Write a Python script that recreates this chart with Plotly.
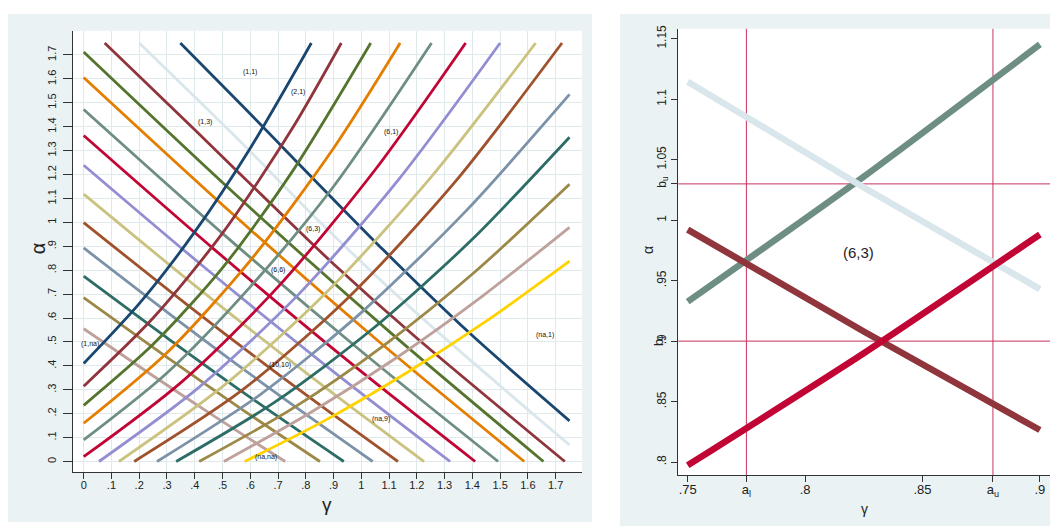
import plotly.graph_objects as go

W, H = 1050, 526

# ---------------- Stata s2color palette ----------------
NAVY = "#1A476F"; MAROON = "#90353B"; FOREST = "#55752F"; DKORANGE = "#E37E00"
TEAL = "#6E8E84"; CRANBERRY = "#C10534"; LAVENDER = "#938DD2"; KHAKI = "#CAC27E"
SIENNA = "#A0522D"; EMIDBLUE = "#7B92A8"; EMERALD = "#2D6D66"; BROWN = "#9C8847"
EROSE = "#BFA19C"; GOLD = "#FFD200"; BLUISHGRAY = "#D9E6EB"

# ---------------- left panel: rising curves (gamma, alpha) ----------------
UP_NAVY_G = [0, 0.2, 0.4, 0.6, 0.82]
UP_NAVY_A = [0.41, 0.66, 0.96, 1.31, 1.75]
UP_MAROON_G = [0, 0.25, 0.5, 0.75, 0.928]
UP_MAROON_A = [0.315, 0.60, 0.955, 1.39, 1.75]
UP_FOREST_G = [0, 0.25, 0.5, 0.75, 1.034]
UP_FOREST_A = [0.235, 0.49, 0.81, 1.21, 1.75]
UP_ORANGE_G = [0, 0.3, 0.6, 0.9, 1.14]
UP_ORANGE_A = [0.16, 0.455, 0.84, 1.31, 1.75]
UP_TEAL_G = [0, 0.3, 0.6, 0.9, 1.253]
UP_TEAL_A = [0.09, 0.37, 0.73, 1.15, 1.75]
UP_CRAN_G = [0, 0.35, 0.7, 1.05, 1.376]
UP_CRAN_A = [0.02, 0.33, 0.73, 1.22, 1.75]
UP_LAV_G = [0.055, 0.415, 0.775, 1.135, 1.5]
UP_LAV_A = [0, 0.31, 0.70, 1.18, 1.75]
UP_KHAKI_G = [0.127, 0.502, 0.877, 1.252, 1.628]
UP_KHAKI_A = [0, 0.315, 0.71, 1.19, 1.75]
UP_SIENNA_G = [0.182, 0.567, 0.952, 1.337, 1.723]
UP_SIENNA_A = [0, 0.295, 0.684, 1.168, 1.75]
UP_EMID_G = [0.264, 0.636, 1.007, 1.379, 1.75]
UP_EMID_A = [0, 0.28, 0.63, 1.05, 1.535]
UP_EMER_G = [0.333, 0.687, 1.041, 1.396, 1.75]
UP_EMER_A = [0, 0.247, 0.555, 0.925, 1.356]
UP_BROWN_G = [0.416, 0.75, 1.083, 1.416, 1.75]
UP_BROWN_A = [0, 0.22, 0.487, 0.80, 1.159]
UP_EROSE_G = [0.505, 0.816, 1.128, 1.439, 1.75]
UP_EROSE_A = [0, 0.204, 0.435, 0.694, 0.979]
UP_GOLD_G = [0.58, 0.873, 1.165, 1.458, 1.75]
UP_GOLD_A = [0, 0.174, 0.372, 0.593, 0.838]

# ---------------- left panel: falling curves (gamma, alpha) ----------------
DN_NAVY_G = [0.348, 0.574, 1.078, 1.39, 1.75]
DN_NAVY_A = [1.75, 1.484, 0.886, 0.537, 0.17]
DN_BLUISH_G = [0.2, 0.574, 0.826, 1.186, 1.75]
DN_BLUISH_A = [1.75, 1.327, 1.03, 0.634, 0.069]
DN_MAROON_G = [0.0756, 0.4, 0.75, 0.9, 1.186, 1.733]
DN_MAROON_A = [1.75, 1.387, 0.992, 0.826, 0.53, 0]
DN_FOREST_G = [0, 0.55, 1.1, 1.656]
DN_FOREST_A = [1.712, 1.113, 0.544, 0]
DN_ORANGE_G = [0, 0.53, 1.06, 1.587]
DN_ORANGE_A = [1.606, 1.042, 0.505, 0]
DN_TEAL_G = [0, 0.5, 1.0, 1.493]
DN_TEAL_A = [1.472, 0.954, 0.461, 0]
DN_CRAN_G = [0, 0.47, 0.94, 1.41]
DN_CRAN_A = [1.363, 0.887, 0.432, 0]
DN_LAV_G = [0, 0.44, 0.88, 1.32]
DN_LAV_A = [1.239, 0.807, 0.394, 0]
DN_KHAKI_G = [0, 0.41, 0.82, 1.226]
DN_KHAKI_A = [1.118, 0.727, 0.354, 0]
DN_SIENNA_G = [0, 0.38, 0.755, 1.132]
DN_SIENNA_A = [0.999, 0.649, 0.318, 0]
DN_EMID_G = [0, 0.35, 0.69, 1.041]
DN_EMID_A = [0.893, 0.581, 0.289, 0]
DN_EMER_G = [0, 0.31, 0.625, 0.937]
DN_EMER_A = [0.775, 0.509, 0.248, 0]
DN_BROWN_G = [0, 0.285, 0.57, 0.851]
DN_BROWN_A = [0.685, 0.448, 0.218, 0]
DN_EROSE_G = [0, 0.24, 0.485, 0.726]
DN_EROSE_A = [0.555, 0.366, 0.178, 0]

# region labels (left panel)
LBL_TEXT = ["(1,1)", "(2,1)", "(1,3)", "(6,1)", "(6,3)", "(6,6)", "(1,na)", "(10,10)", "(na,9)", "(na,1)", "(na,na)"]
LBL_G = [0.598, 0.772, 0.436, 1.106, 0.826, 0.70, 0.022, 0.706, 1.072, 1.661, 0.656]
LBL_A = [1.629, 1.546, 1.418, 1.378, 0.972, 0.80, 0.491, 0.405, 0.177, 0.53, 0.018]

# left axis ticks
L_TICKS = [0, .1, .2, .3, .4, .5, .6, .7, .8, .9, 1, 1.1, 1.2, 1.3, 1.4, 1.5, 1.6, 1.7]
L_TICKTEXT = ["0", ".1", ".2", ".3", ".4", ".5", ".6", ".7", ".8", ".9", "1",
              "1.1", "1.2", "1.3", "1.4", "1.5", "1.6", "1.7"]

# ---------------- right panel: zoom on region (6,3) ----------------
R_TEAL_G = [0.75, 0.825, 0.90]
R_TEAL_A = [0.9326, 1.036, 1.1453]
R_BLUISH_G = [0.75, 0.825, 0.90]
R_BLUISH_A = [1.1145, 1.027, 0.943]
R_MAROON_G = [0.75, 0.825, 0.90]
R_MAROON_A = [0.9922, 0.908, 0.8265]
R_CRAN_G = [0.75, 0.825, 0.90]
R_CRAN_A = [0.7973, 0.890, 0.9881]
A_L, A_U = 0.775, 0.88
B_L, B_U = 0.90, 1.03
R_XTICKS = [0.75, A_L, 0.8, 0.85, A_U, 0.9]
R_XTEXT = [".75", "a<sub>l</sub>", ".8", ".85", "a<sub>u</sub>", ".9"]
R_YTICKS = [0.8, 0.85, 0.9, 0.95, 1.0, B_U, 1.05, 1.1, 1.15]
R_YTEXT = [".8", ".85", ".9", ".95", "1", "b<sub>u</sub>", "1.05", "1.1", "1.15"]

FONT = "Liberation Sans, Arial, sans-serif"

# ---------------- figure ----------------
fig = go.Figure()

up_lines = [
    (UP_NAVY_G, UP_NAVY_A, NAVY), (UP_MAROON_G, UP_MAROON_A, MAROON),
    (UP_FOREST_G, UP_FOREST_A, FOREST), (UP_ORANGE_G, UP_ORANGE_A, DKORANGE),
    (UP_TEAL_G, UP_TEAL_A, TEAL), (UP_CRAN_G, UP_CRAN_A, CRANBERRY),
    (UP_LAV_G, UP_LAV_A, LAVENDER), (UP_KHAKI_G, UP_KHAKI_A, KHAKI),
    (UP_SIENNA_G, UP_SIENNA_A, SIENNA), (UP_EMID_G, UP_EMID_A, EMIDBLUE),
    (UP_EMER_G, UP_EMER_A, EMERALD), (UP_BROWN_G, UP_BROWN_A, BROWN),
    (UP_EROSE_G, UP_EROSE_A, EROSE), (UP_GOLD_G, UP_GOLD_A, GOLD),
]
down_lines = [
    (DN_NAVY_G, DN_NAVY_A, NAVY), (DN_BLUISH_G, DN_BLUISH_A, BLUISHGRAY),
    (DN_MAROON_G, DN_MAROON_A, MAROON), (DN_FOREST_G, DN_FOREST_A, FOREST),
    (DN_ORANGE_G, DN_ORANGE_A, DKORANGE), (DN_TEAL_G, DN_TEAL_A, TEAL),
    (DN_CRAN_G, DN_CRAN_A, CRANBERRY), (DN_LAV_G, DN_LAV_A, LAVENDER),
    (DN_KHAKI_G, DN_KHAKI_A, KHAKI), (DN_SIENNA_G, DN_SIENNA_A, SIENNA),
    (DN_EMID_G, DN_EMID_A, EMIDBLUE), (DN_EMER_G, DN_EMER_A, EMERALD),
    (DN_BROWN_G, DN_BROWN_A, BROWN), (DN_EROSE_G, DN_EROSE_A, EROSE),
]

for g, a, c in down_lines + up_lines:
    fig.add_trace(go.Scatter(x=g, y=a, mode="lines",
                             line=dict(color=c, width=2.8, shape="spline", smoothing=0.8),
                             xaxis="x", yaxis="y", showlegend=False, hoverinfo="skip"))

right_lines = [
    (R_TEAL_G, R_TEAL_A, TEAL), (R_BLUISH_G, R_BLUISH_A, BLUISHGRAY),
    (R_MAROON_G, R_MAROON_A, MAROON), (R_CRAN_G, R_CRAN_A, CRANBERRY),
]
for g, a, c in right_lines:
    fig.add_trace(go.Scatter(x=g, y=a, mode="lines",
                             line=dict(color=c, width=6.5, shape="spline", smoothing=0.6),
                             xaxis="x2", yaxis="y2", showlegend=False, hoverinfo="skip"))

# domains (paper fractions)
LX = [73 / W, 582 / W]
LY = [1 - 472 / H, 1 - 27 / H]
RX = [678.3 / W, 1.0]
RY = [1 - 475 / H, 1 - 25 / H]

BG = "#EAF2F3"
GRID = "#E0EAED"
AXC = "#333333"

shapes = [
    dict(type="rect", xref="paper", yref="paper", x0=8 / W, x1=592 / W, y0=1 - 522 / H, y1=1 - 10 / H,
         fillcolor=BG, line=dict(width=0), layer="below"),
    dict(type="rect", xref="paper", yref="paper", x0=620 / W, x1=1.0, y0=0, y1=1 - 10 / H,
         fillcolor=BG, line=dict(width=0), layer="below"),
    dict(type="rect", xref="paper", yref="paper", x0=LX[0], x1=LX[1], y0=LY[0], y1=LY[1],
         fillcolor="white", line=dict(width=0), layer="below"),
    dict(type="rect", xref="paper", yref="paper", x0=RX[0], x1=RX[1], y0=RY[0], y1=RY[1],
         fillcolor="white", line=dict(width=0), layer="below"),
]
REF = "#C8325A"
for xv in (A_L, A_U):
    shapes.append(dict(type="line", xref="x2", yref="paper", x0=xv, x1=xv, y0=RY[0], y1=RY[1],
                       line=dict(color=REF, width=1), layer="below"))
for yv in (B_L, B_U):
    shapes.append(dict(type="line", xref="paper", yref="y2", x0=RX[0], x1=RX[1], y0=yv, y1=yv,
                       line=dict(color=REF, width=1), layer="below"))

annotations = []
for t, g, a in zip(LBL_TEXT, LBL_G, LBL_A):
    annotations.append(dict(x=g, y=a, xref="x", yref="y", text=t, showarrow=False,
                            xanchor="center", yanchor="middle",
                            font=dict(family=FONT, size=7, color="#111111")))
annotations.append(dict(x=0.8229, y=0.973, xref="x2", yref="y2", text="(6,3)", showarrow=False,
                        xanchor="center", yanchor="middle",
                        font=dict(family=FONT, size=15, color="#222222")))
# axis titles
annotations += [
    dict(x=38 / W, y=1 - 246 / H, xref="paper", yref="paper", text="α", textangle=-90,
         xanchor="center", yanchor="middle",
         showarrow=False, font=dict(family=FONT, size=20, color="#222222")),
    dict(x=327 / W, y=1 - 504 / H, xref="paper", yref="paper", text="γ",
         xanchor="center", yanchor="middle",
         showarrow=False, font=dict(family=FONT, size=19, color="#222222")),
    dict(x=648 / W, y=1 - 248 / H, xref="paper", yref="paper", text="α", textangle=-90,
         xanchor="center", yanchor="middle",
         showarrow=False, font=dict(family=FONT, size=14, color="#222222")),
    dict(x=864 / W, y=1 - 509 / H, xref="paper", yref="paper", text="γ",
         xanchor="center", yanchor="middle",
         showarrow=False, font=dict(family=FONT, size=14, color="#222222")),
    # b_l label overlapping the .9 tick as in the original
    dict(x=RX[0], y=B_L, xref="paper", yref="y2", text="b<sub>l</sub>", textangle=-90,
         xanchor="right", yanchor="middle", xshift=-9, showarrow=False,
         font=dict(family=FONT, size=13, color="#222222")),
]

axis_common = dict(showline=True, linecolor=AXC, linewidth=1, ticks="outside",
                   tickcolor=AXC, zeroline=False, mirror=False)

fig.update_layout(
    width=W, height=H,
    margin=dict(l=0, r=0, t=0, b=0),
    paper_bgcolor="white", plot_bgcolor="rgba(0,0,0,0)",
    showlegend=False,
    shapes=shapes, annotations=annotations,
    xaxis=dict(domain=LX, range=[-0.0385, 1.795], tickvals=L_TICKS, ticktext=L_TICKTEXT,
               showgrid=True, gridcolor=GRID, gridwidth=1, anchor="y", ticklen=6,
               ticklabelstandoff=-4,
               tickfont=dict(family=FONT, size=11, color="#222222"), **axis_common),
    yaxis=dict(domain=LY, range=[-0.0456, 1.801], tickvals=L_TICKS, ticktext=L_TICKTEXT,
               showgrid=True, gridcolor=GRID, gridwidth=1, anchor="x", tickangle=-90, ticklen=9,
               ticklabelstandoff=3,
               tickfont=dict(family=FONT, size=11, color="#222222"), **axis_common),
    xaxis2=dict(domain=RX, range=[0.746, 0.9043], tickvals=R_XTICKS, ticktext=R_XTEXT,
                showgrid=False, anchor="y2", ticklen=6, ticklabelstandoff=-4,
                tickfont=dict(family=FONT, size=13, color="#222222"), **axis_common),
    yaxis2=dict(domain=RY, range=[0.789, 1.1582], tickvals=R_YTICKS, ticktext=R_YTEXT,
                showgrid=False, anchor="x2", tickangle=-90, ticklen=6, ticklabelstandoff=1,
                tickfont=dict(family=FONT, size=12, color="#222222"), **axis_common),
)

fig.write_html("out.html")
